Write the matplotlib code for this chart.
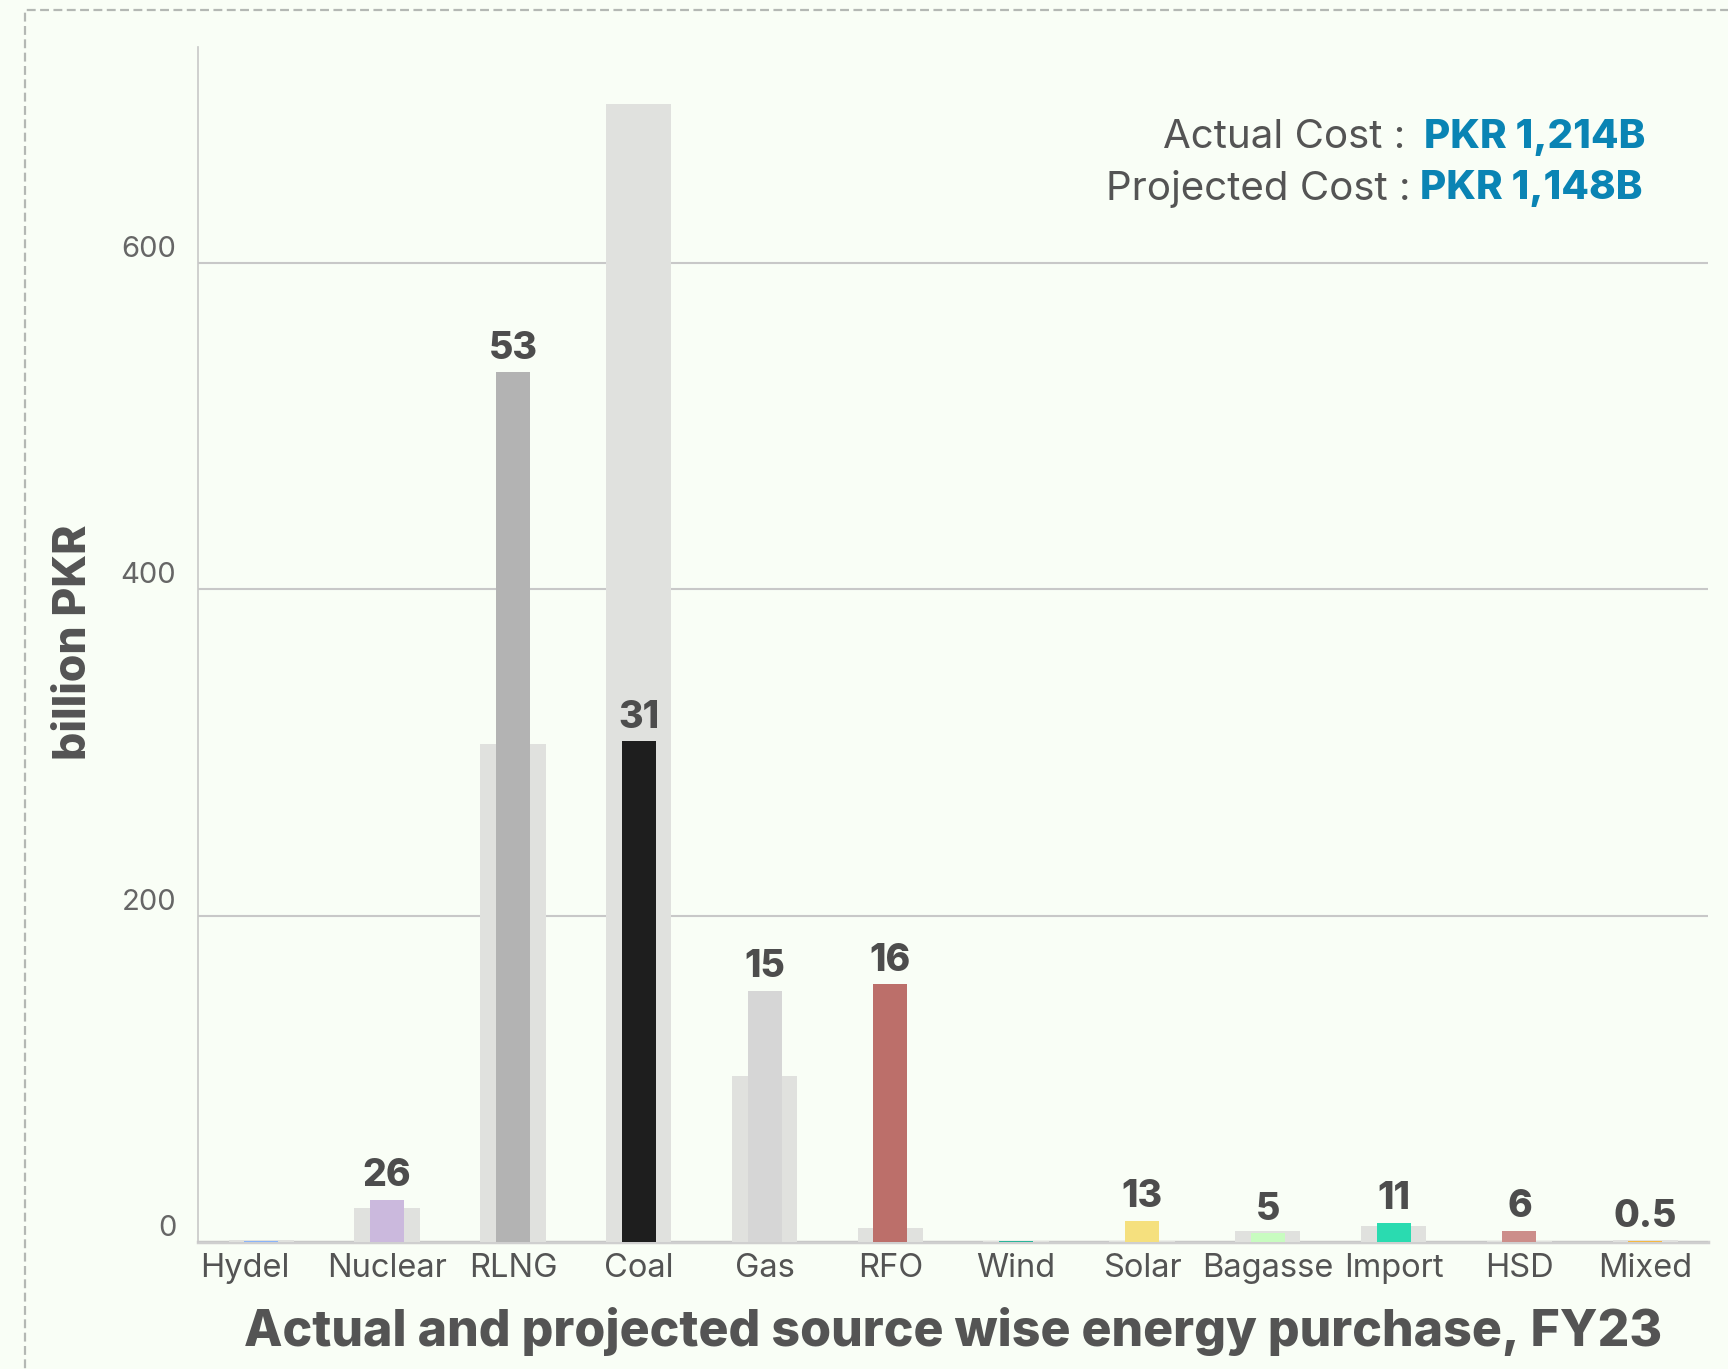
import matplotlib
matplotlib.use("Agg")
import matplotlib.pyplot as plt
from matplotlib.patches import Rectangle
from matplotlib.transforms import ScaledTranslation
import numpy as np

# source wise energy purchase, FY23 (billion PKR)
sources = ["Hydel", "Nuclear", "RLNG", "Coal", "Gas", "RFO",
           "Wind", "Solar", "Bagasse", "Import", "HSD", "Mixed"]
projected = [1.5, 21, 305, 697, 102, 9, 1, 1, 7, 10, 1, 1.5]
actual = [1, 26, 533, 307, 154, 158, 1, 13, 5.5, 12, 7, 1]
bar_labels = ["", "26", "53", "31", "15", "16", "", "13", "5", "11", "6", "0.5"]
actual_colors = ["#8ab4f8", "#cbb9dd", "#b3b3b3", "#1e1e1e", "#d6d6d6", "#bc6f6a",
                 "#2ab59a", "#f5e07e", "#c8fcc0", "#2adbb0", "#cc8e8a", "#f5b942"]
yticks = [0, 200, 400, 600]

FONT = "Inter"
BG = "#f9fef6"
TEXT = "#545454"

plt.rcParams["font.family"] = [FONT, "DejaVu Sans"]

fig = plt.figure(figsize=(17.28, 13.69), dpi=100, facecolor=BG)
ax = fig.add_axes([0.1148, 0.0926, 0.8737, 0.8728])
ax.set_facecolor(BG)

x = np.arange(len(sources))
ax.bar(x, projected, width=0.52, color="#e0e1de", zorder=2)
ax.bar(x, actual, width=0.27, color=actual_colors, zorder=3)

for xi, val, lab in zip(x, actual, bar_labels):
    if lab:
        ax.annotate(lab, (xi, val), xytext=(0, 4), textcoords="offset points",
                    ha="center", va="bottom", fontsize=27, fontweight="heavy",
                    color="#4d4d4d", zorder=4)

ax.set_xlim(-0.5, 11.5)
ax.set_ylim(0, 732)

ax.set_yticks(yticks)
ax.set_yticklabels([str(t) for t in yticks], fontsize=21, fontweight="normal",
                   color="#666666", va="bottom")
ax.tick_params(axis="y", length=0, pad=16)
ax.yaxis.grid(True, color="#c8c8c8", lw=1.5, zorder=1)

ax.set_xticks(x)
ax.set_xticklabels(sources, fontsize=23.5, fontweight="normal", color=TEXT)
ax.tick_params(axis="x", length=0, pad=8)
# first label sits tight against the y axis
first = ax.get_xticklabels()[0]
first.set_transform(first.get_transform() + ScaledTranslation(-0.165, 0, fig.dpi_scale_trans))

for side in ["top", "right"]:
    ax.spines[side].set_visible(False)
ax.spines["left"].set_color("#c8c8c8")
ax.spines["left"].set_linewidth(1.2)
ax.spines["bottom"].set_color("#cfcfcf")
ax.spines["bottom"].set_linewidth(2.5)
ax.spines["bottom"].set_zorder(1.5)

ax.set_ylabel("billion PKR", fontsize=32, fontweight="heavy", color=TEXT, va="center")
ax.yaxis.set_label_coords(-0.0825, 0.502)
ax.set_xlabel("Actual and projected source wise energy purchase, FY23",
              fontsize=36, fontweight="heavy", color=TEXT, labelpad=16)

# total cost summary
fig.text(0.8135, 0.8994, "Actual Cost :", ha="right", va="center",
         fontsize=29, fontweight="normal", color=TEXT)
fig.text(0.8240, 0.8994, "PKR 1,214B", ha="left", va="center",
         fontsize=29, fontweight="heavy", color="#0a84b4")
fig.text(0.8160, 0.8623, "Projected Cost :", ha="right", va="center",
         fontsize=29, fontweight="normal", color=TEXT)
fig.text(0.8220, 0.8623, "PKR 1,148B", ha="left", va="center",
         fontsize=29, fontweight="heavy", color="#0a84b4")

# dashed frame running off the right and bottom edges
fig.patches.append(Rectangle((0.0145, -0.05), 1.2, 1.0427, transform=fig.transFigure,
                             fill=False, ls=(0, (4, 2)), lw=1.6, ec="#b4b8b4"))

fig.savefig("out.png", dpi=100, facecolor=BG)
